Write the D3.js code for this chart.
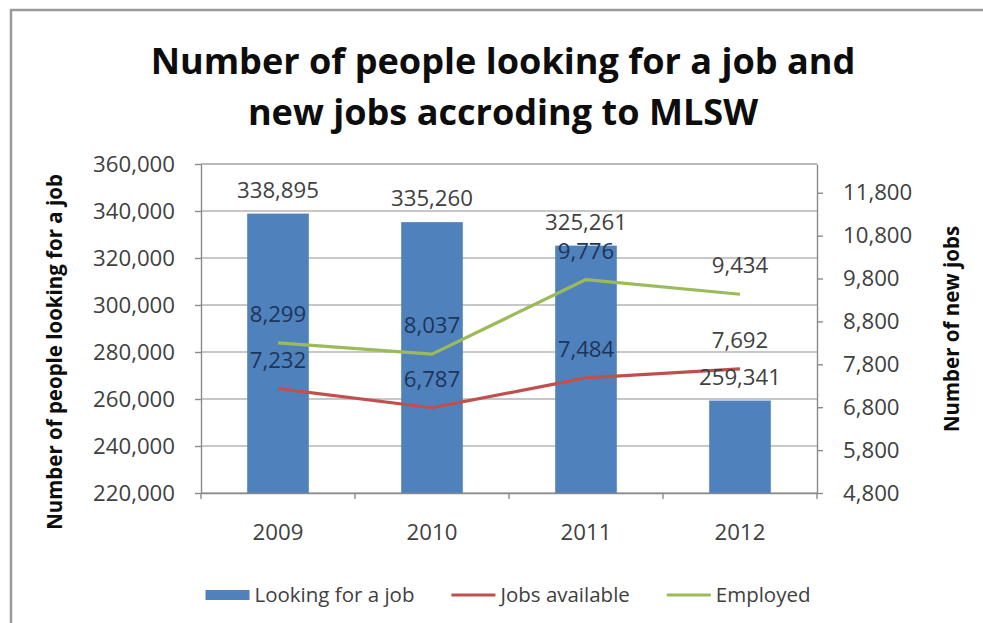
<!DOCTYPE html>
<html>
<head>
<meta charset="utf-8">
<script src="https://cdn.jsdelivr.net/npm/d3@7"></script>
<style>
  html, body { margin: 0; padding: 0; background: #ffffff; }
  svg { display: block; }
</style>
</head>
<body>
<svg id="chart" width="983" height="623"></svg>
<script>
// Jobseekers (bars, left axis) and new jobs (lines, right axis), MLSW figures
const categories = ["2009", "2010", "2011", "2012"];
const lookingForJob = [338895, 335260, 325261, 259341];
const jobsAvailable = [7232, 6787, 7484, 7692];
const employed = [8299, 8037, 9776, 9434];

const leftTicks = [220000, 240000, 260000, 280000, 300000, 320000, 340000, 360000];
const rightTicks = [4800, 5800, 6800, 7800, 8800, 9800, 10800, 11800];
const leftDomain = [220000, 360000];
const rightDomain = [4800, 12470];

const titleLines = ["Number of people looking for a job and", "new jobs accroding to MLSW"];
const leftTitle = "Number of people looking for a job";
const rightTitle = "Number of new jobs";
const seriesNames = ["Looking for a job", "Jobs available", "Employed"];

const colors = { bar: "#4F81BD", jobs: "#C0504D", employed: "#9BBB59" };
const fontFamily = "'Open Sans', 'Noto Sans', sans-serif";
const textGray = "#404040";
const insideLabel = "#1d3559";

const plot = { left: 201, right: 817, top: 164, bottom: 493 };

const svg = d3.select("#chart");

// scale a text element's font so its rendered width matches a target width
function fitWidth(sel, target) {
  const w = sel.node().getComputedTextLength();
  const fs = parseFloat(sel.attr("font-size"));
  const size = fs * target / w;
  sel.attr("font-size", size);
  return size;
}

// outer chart frame
svg.append("path")
  .attr("d", "M11,623 L11,10 L983,10")
  .attr("fill", "none")
  .attr("stroke", "#9a9a9a")
  .attr("stroke-width", 2.5);

// label font size, derived from the width of the widest tick label
const probe = svg.append("text").attr("font-family", fontFamily).attr("font-size", 20).text("360,000");
const labelSize = fitWidth(probe, 82);
probe.remove();

// title
const t1 = svg.append("text")
  .attr("x", 503).attr("y", 74)
  .attr("text-anchor", "middle")
  .attr("font-family", fontFamily).attr("font-weight", "bold")
  .attr("font-size", 36).attr("fill", "#0d0d0d")
  .text(titleLines[0]);
const titleSize = fitWidth(t1, 705);
svg.append("text")
  .attr("x", 503).attr("y", 125)
  .attr("text-anchor", "middle")
  .attr("font-family", fontFamily).attr("font-weight", "bold")
  .attr("font-size", titleSize).attr("fill", "#0d0d0d")
  .text(titleLines[1]);

// scales
const x = d3.scaleBand()
  .domain(categories)
  .range([plot.left, plot.right])
  .paddingInner(0.6)
  .paddingOuter(0.3);
const yLeft = d3.scaleLinear().domain(leftDomain).range([plot.bottom, plot.top]);
const yRight = d3.scaleLinear().domain(rightDomain).range([plot.bottom, plot.top]);
const cx = c => x(c) + x.bandwidth() / 2;

// horizontal gridlines from the left axis
svg.append("g")
  .selectAll("line")
  .data(leftTicks)
  .join("line")
  .attr("x1", plot.left).attr("x2", plot.right)
  .attr("y1", d => yLeft(d)).attr("y2", d => yLeft(d))
  .attr("stroke", "#b4b4b4")
  .attr("stroke-width", 1.4);

// bars
svg.append("g")
  .selectAll("rect")
  .data(categories)
  .join("rect")
  .attr("x", c => x(c))
  .attr("width", x.bandwidth())
  .attr("y", (c, i) => yLeft(lookingForJob[i]))
  .attr("height", (c, i) => plot.bottom - yLeft(lookingForJob[i]))
  .attr("fill", colors.bar);

// axes
function styleAxis(g) {
  g.selectAll(".domain").attr("stroke", "#8a8a8a").attr("stroke-width", 1.4);
  g.selectAll(".tick line").attr("stroke", "#8a8a8a").attr("stroke-width", 1.4);
  g.selectAll("text")
    .attr("font-family", fontFamily)
    .attr("font-size", labelSize)
    .attr("fill", textGray);
}

svg.append("g")
  .attr("transform", `translate(${plot.left},0)`)
  .call(d3.axisLeft(yLeft).tickValues(leftTicks).tickFormat(d3.format(",")).tickSize(6).tickSizeOuter(0).tickPadding(20))
  .call(styleAxis);

svg.append("g")
  .attr("transform", `translate(${plot.right},0)`)
  .call(d3.axisRight(yRight).tickValues(rightTicks).tickFormat(d3.format(",")).tickSize(6).tickSizeOuter(0).tickPadding(20))
  .call(styleAxis);

const xAxis = svg.append("g")
  .attr("transform", `translate(0,${plot.bottom})`)
  .call(d3.axisBottom(x).tickSize(0).tickSizeOuter(0).tickPadding(31))
  .call(styleAxis);
// category boundary tick marks
const boundaries = categories.map(c => x(c) - x.step() * x.paddingInner() / 2).concat([plot.right]);
xAxis.selectAll(".boundary")
  .data(boundaries)
  .join("line")
  .attr("class", "boundary")
  .attr("x1", d => d).attr("x2", d => d)
  .attr("y1", 0).attr("y2", 6)
  .attr("stroke", "#8a8a8a").attr("stroke-width", 1.4);

// top edge of the plot area
svg.append("line")
  .attr("x1", plot.left).attr("x2", plot.right)
  .attr("y1", plot.top).attr("y2", plot.top)
  .attr("stroke", "#b4b4b4").attr("stroke-width", 1.4);

// lines
const line = d3.line().x(d => cx(d.c)).y(d => yRight(d.v));
const jobsPts = categories.map((c, i) => ({ c, v: jobsAvailable[i] }));
const empPts = categories.map((c, i) => ({ c, v: employed[i] }));

svg.append("path").datum(jobsPts)
  .attr("d", line).attr("fill", "none")
  .attr("stroke", colors.jobs).attr("stroke-width", 3.2)
  .attr("stroke-linejoin", "round");
svg.append("path").datum(empPts)
  .attr("d", line).attr("fill", "none")
  .attr("stroke", colors.employed).attr("stroke-width", 3.2)
  .attr("stroke-linejoin", "round");

// data labels
const fmt = d3.format(",");
function labelColor(c, yCenter) {
  const i = categories.indexOf(c);
  return yCenter > yLeft(lookingForJob[i]) ? insideLabel : textGray;
}
const labels = svg.append("g")
  .attr("font-family", fontFamily)
  .attr("font-size", labelSize)
  .attr("text-anchor", "middle");

labels.selectAll(".bar-label")
  .data(categories)
  .join("text")
  .attr("x", c => cx(c))
  .attr("y", (c, i) => yLeft(lookingForJob[i]) - 16)
  .attr("fill", textGray)
  .text((c, i) => fmt(lookingForJob[i]));

[jobsPts, empPts].forEach(pts => {
  labels.append("g")
    .selectAll("text")
    .data(pts)
    .join("text")
    .attr("x", d => cx(d.c))
    .attr("y", d => yRight(d.v) - 21)
    .attr("fill", d => labelColor(d.c, yRight(d.v) - 28))
    .text(d => fmt(d.v));
});

// axis titles
const lt = svg.append("text")
  .attr("transform", `translate(62,352) rotate(-90)`)
  .attr("text-anchor", "middle")
  .attr("font-family", fontFamily).attr("font-weight", "bold")
  .attr("font-size", 20).attr("fill", "#0d0d0d")
  .text(leftTitle);
const axisTitleSize = fitWidth(lt, 356);
svg.append("text")
  .attr("transform", `translate(959,329) rotate(-90)`)
  .attr("text-anchor", "middle")
  .attr("font-family", fontFamily).attr("font-weight", "bold")
  .attr("font-size", axisTitleSize).attr("fill", "#0d0d0d")
  .text(rightTitle);

// legend
const legend = svg.append("g");
const legendY = 595;
const legendSymbols = [
  { type: "rect", color: colors.bar },
  { type: "line", color: colors.jobs },
  { type: "line", color: colors.employed }
];
const legendProbe = svg.append("text").attr("font-family", fontFamily).attr("font-size", 20).text(seriesNames[0]);
const legendSize = fitWidth(legendProbe, 160);
legendProbe.remove();
const items = seriesNames.map((name, i) => {
  const g = legend.append("g");
  const txt = g.append("text")
    .attr("font-family", fontFamily)
    .attr("font-size", legendSize)
    .attr("fill", textGray)
    .attr("dy", "0.35em")
    .text(name);
  return { g, txt, sym: legendSymbols[i], w: txt.node().getComputedTextLength() };
});
const symW = 44, symGap = 5, itemGap = 37;
const total = d3.sum(items, it => symW + symGap + it.w) + itemGap * (items.length - 1);
let cursor = 508 - total / 2;
items.forEach(it => {
  if (it.sym.type === "rect") {
    it.g.append("rect")
      .attr("x", cursor).attr("y", legendY - 5)
      .attr("width", symW).attr("height", 10)
      .attr("fill", it.sym.color);
  } else {
    it.g.append("line")
      .attr("x1", cursor).attr("x2", cursor + symW)
      .attr("y1", legendY).attr("y2", legendY)
      .attr("stroke", it.sym.color).attr("stroke-width", 3.2);
  }
  it.txt.attr("x", cursor + symW + symGap).attr("y", legendY);
  cursor += symW + symGap + it.w + itemGap;
});
</script>
</body>
</html>
